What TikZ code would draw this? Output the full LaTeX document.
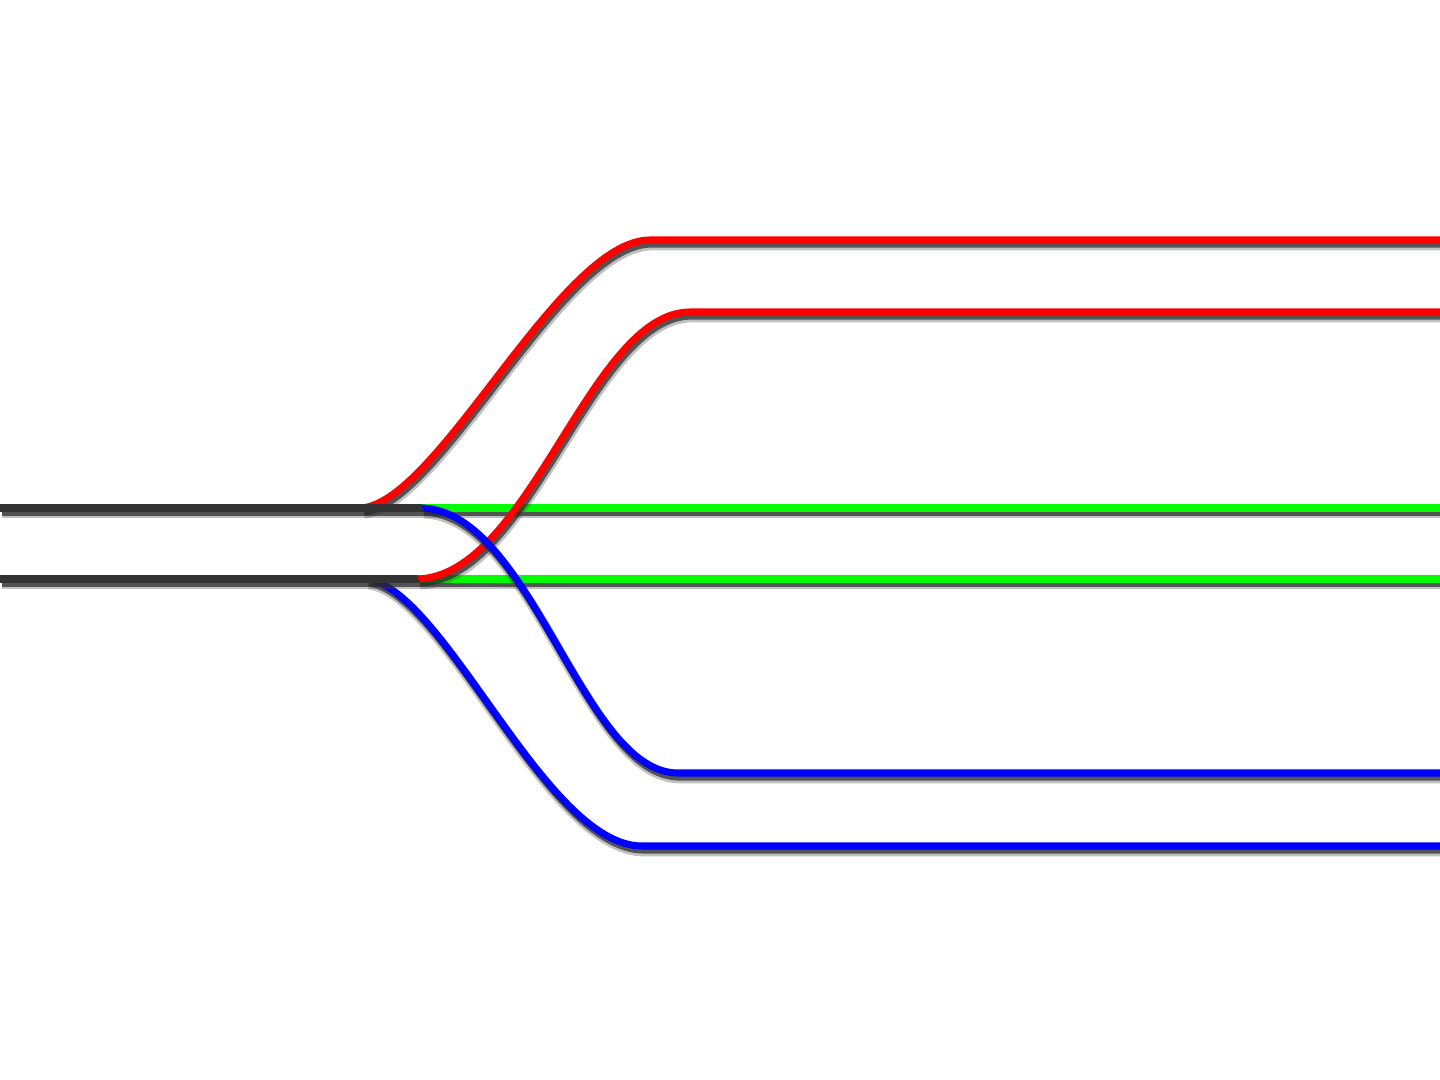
\documentclass[tikz,border=0pt]{standalone}
\usepackage{tikz}

\begin{document}
\begin{tikzpicture}[x=0.01cm, y=-0.01cm,
  wire/.style={line width=2pt, line join=round,
    preaction={draw=black!70, opacity=.35, line width=2.9pt, transform canvas={shift={(0.6pt,-1.5pt)}}},
    preaction={draw=black!85, opacity=.7, line width=1.9pt, transform canvas={shift={(0.5pt,-1.2pt)}}}},
  fibre/.style={wire, draw=black!80},
  thru/.style={wire, draw=green},
  up/.style={wire, draw=red},
  down/.style={wire, draw=blue}]
  \useasboundingbox (0,0) rectangle (1440,1080);
  % ---------------- input pair
  \coordinate (inA) at (0,508);
  \coordinate (inB) at (0,579);
  \coordinate (jA) at (422,508);
  \coordinate (jB) at (418,579);
  % ---------------- outputs
  \coordinate (gA) at (1440,508);
  \coordinate (gB) at (1440,579);
  \coordinate (rA) at (650,240);  \coordinate (rAe) at (1440,240);
  \coordinate (rB) at (690,312);  \coordinate (rBe) at (1440,312);
  \coordinate (bA) at (678,773);  \coordinate (bAe) at (1440,773);
  \coordinate (bB) at (642,846);  \coordinate (bBe) at (1440,846);
  \coordinate (sA) at (362,508);
  \coordinate (sB) at (367,579);
  % ---------------- straight through
  \draw[thru] (jA) -- (gA);
  \draw[thru] (jB) -- (gB);
  % ---------------- bent up
  \draw[up] (sA) .. controls (440,500) and (560,240) .. (rA) -- (rAe);
  \draw[up] (jB) .. controls (530,575) and (590,312) .. (rB) -- (rBe);
  % ---------------- bent down
  \draw[down] (jA) .. controls (532,512) and (582,773) .. (bA) -- (bAe);
  \draw[down] (sB) .. controls (445,590) and (545,846) .. (bB) -- (bBe);
  % ---------------- input fibres
  \draw[fibre] (inA) -- (jA);
  \draw[fibre] (inB) -- (jB);
\end{tikzpicture}
\end{document}
